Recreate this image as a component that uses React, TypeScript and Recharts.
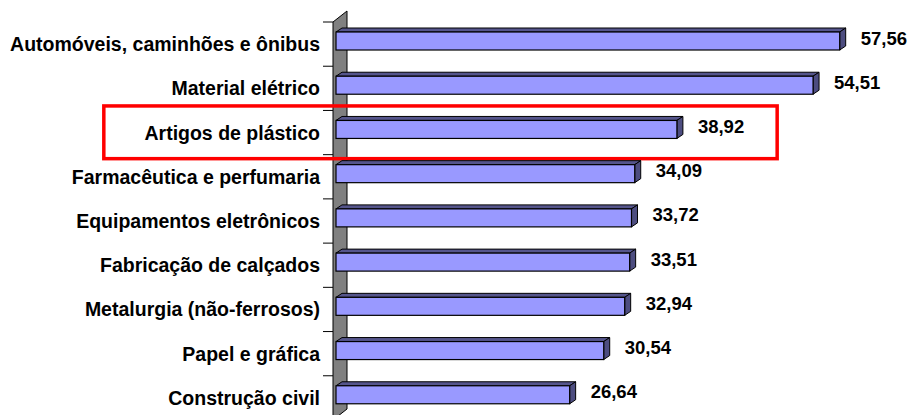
import React from 'react';
import { BarChart, Bar, XAxis, YAxis, ReferenceArea, LabelList } from 'recharts';

const categories = [
  'Automóveis, caminhões e ônibus',
  'Material elétrico',
  'Artigos de plástico',
  'Farmacêutica e perfumaria',
  'Equipamentos eletrônicos',
  'Fabricação de calçados',
  'Metalurgia (não-ferrosos)',
  'Papel e gráfica',
  'Construção civil',
];
const values = [57.56, 54.51, 38.92, 34.09, 33.72, 33.51, 32.94, 30.54, 26.64];
const highlighted = 'Artigos de plástico';
const xDomain = [0, 60];
const highlightSpan = [-26.7, 50.4];

const data = categories.map((name, i) => ({ name, value: values[i] }));

const FONT = '"Liberation Sans", Arial, Helvetica, sans-serif';
const DX = 6;
const DY = 4;

const Bar3D = (props: any) => {
  const { x, y, width, height } = props;
  if (width == null || height == null) return null;
  const fx = x - 1;
  const fy = y - 3;
  const w = width + 1;
  const h = height;
  return (
    <g>
      <polygon
        points={`${fx},${fy} ${fx + DX},${fy - DY} ${fx + w + DX},${fy - DY} ${fx + w},${fy}`}
        fill="#55558C"
        stroke="#000"
        strokeWidth={1}
        strokeLinejoin="round"
      />
      <polygon
        points={`${fx + w},${fy} ${fx + w + DX},${fy - DY} ${fx + w + DX},${fy + h - DY} ${fx + w},${fy + h}`}
        fill="#4D4D80"
        stroke="#000"
        strokeWidth={1}
        strokeLinejoin="round"
      />
      <rect x={fx} y={fy} width={w} height={h} fill="#9999FF" stroke="#000" strokeWidth={1.2} />
    </g>
  );
};

const Wall = (props: any) => {
  const { x, y, height } = props;
  const n = categories.length;
  const left = x - 4;
  const right = x + 10;
  const ticks = [];
  for (let k = 0; k <= n; k++) {
    const ty = y + (k * height) / n;
    ticks.push(<line key={k} x1={left - 10} y1={ty} x2={left} y2={ty} stroke="#000" strokeWidth={1} />);
  }
  return (
    <g>
      <polygon
        points={`${left},${y} ${right},${y - 11} ${right},${y + height - 11} ${left},${y + height}`}
        fill="#808080"
        stroke="#000"
        strokeWidth={1}
      />
      {ticks}
    </g>
  );
};

const Highlight = (props: any) => {
  const { x, y, width, height } = props;
  return (
    <rect x={x} y={y - 4.5} width={width} height={height + 8.5} fill="none" stroke="#FF0000" strokeWidth={3.5} />
  );
};

const CatTick = (props: any) => {
  const { x, y, payload } = props;
  return (
    <text
      x={x - 17}
      y={y}
      dy={7}
      textAnchor="end"
      fontFamily={FONT}
      fontWeight="bold"
      fontSize={19.5}
      fill="#000"
    >
      {payload.value}
    </text>
  );
};

const ValueLabel = (props: any) => {
  const { x, y, width, height, value } = props;
  const txt = Number(value).toFixed(2).replace('.', ',');
  return (
    <text
      x={x + width + DX + 15}
      y={y - 3 + height / 2 - 3}
      dy={6.5}
      textAnchor="start"
      fontFamily={FONT}
      fontWeight="bold"
      fontSize={18.5}
      fill="#000"
    >
      {txt}
    </text>
  );
};

export default function App() {
  return (
    <div
      style={{
        position: 'absolute',
        left: 0,
        top: 0,
        width: 914,
        height: 415,
        overflow: 'hidden',
        background: '#fff',
      }}
    >
      <BarChart
        layout="vertical"
        data={data}
        width={914}
        height={432}
        margin={{ top: 22, right: 53, bottom: 12, left: 0 }}
        barSize={18}
      >
        <XAxis type="number" hide domain={xDomain} />
        <YAxis
          type="category"
          dataKey="name"
          width={337}
          axisLine={false}
          tickLine={false}
          tickSize={0}
          tickMargin={0}
          interval={0}
          tick={<CatTick />}
        />
        <ReferenceArea x1={xDomain[0]} x2={xDomain[1]} ifOverflow="visible" shape={<Wall />} />
        <Bar dataKey="value" isAnimationActive={false} shape={<Bar3D />}>
          <LabelList dataKey="value" content={<ValueLabel />} />
        </Bar>
        <ReferenceArea
          y1={highlighted}
          y2={highlighted}
          x1={highlightSpan[0]}
          x2={highlightSpan[1]}
          ifOverflow="visible"
          shape={<Highlight />}
        />
      </BarChart>
    </div>
  );
}
